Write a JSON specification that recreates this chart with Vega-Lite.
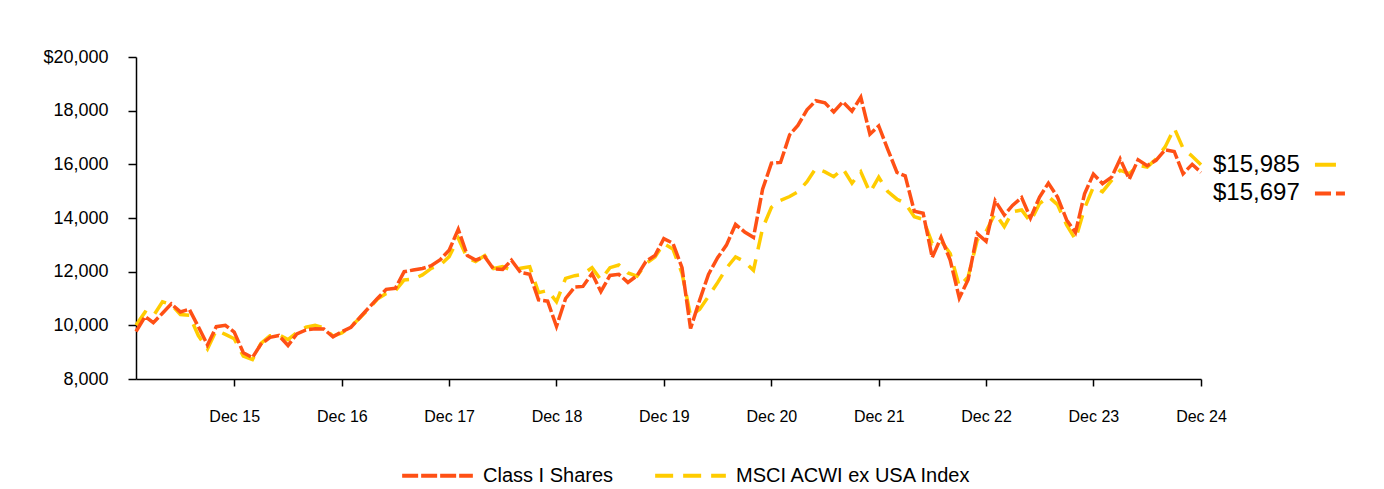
{
"$schema": "https://vega.github.io/schema/vega-lite/v6.json",
"width": 1065,
"height": 322,
"autosize": {"type": "none"},
"padding": {"left": 136, "top": 57, "right": 183, "bottom": 110},
"config": {
  "view": {"stroke": null},
  "font": "Liberation Sans",
  "axis": {"domainColor": "#000", "tickColor": "#000", "labelColor": "#000", "domainWidth": 1.5, "tickWidth": 1.5, "grid": false, "labelFont": "Liberation Sans", "title": null}
},
"datasets": {
  "main": [
{"date":"2015-01-01","Class I Shares":9770,"MSCI ACWI ex USA Index":10000},
{"date":"2015-02-01","Class I Shares":10330,"MSCI ACWI ex USA Index":10500},
{"date":"2015-03-01","Class I Shares":10100,"MSCI ACWI ex USA Index":10350},
{"date":"2015-04-01","Class I Shares":10450,"MSCI ACWI ex USA Index":10880},
{"date":"2015-05-01","Class I Shares":10800,"MSCI ACWI ex USA Index":10780},
{"date":"2015-06-01","Class I Shares":10500,"MSCI ACWI ex USA Index":10400},
{"date":"2015-07-01","Class I Shares":10600,"MSCI ACWI ex USA Index":10380},
{"date":"2015-08-01","Class I Shares":9950,"MSCI ACWI ex USA Index":9620},
{"date":"2015-09-01","Class I Shares":9270,"MSCI ACWI ex USA Index":9120},
{"date":"2015-10-01","Class I Shares":9950,"MSCI ACWI ex USA Index":9820},
{"date":"2015-11-01","Class I Shares":10000,"MSCI ACWI ex USA Index":9660},
{"date":"2015-12-01","Class I Shares":9750,"MSCI ACWI ex USA Index":9500},
{"date":"2016-01-01","Class I Shares":8980,"MSCI ACWI ex USA Index":8850},
{"date":"2016-02-01","Class I Shares":8800,"MSCI ACWI ex USA Index":8720},
{"date":"2016-03-01","Class I Shares":9300,"MSCI ACWI ex USA Index":9330},
{"date":"2016-04-01","Class I Shares":9550,"MSCI ACWI ex USA Index":9610},
{"date":"2016-05-01","Class I Shares":9620,"MSCI ACWI ex USA Index":9650},
{"date":"2016-06-01","Class I Shares":9250,"MSCI ACWI ex USA Index":9470},
{"date":"2016-07-01","Class I Shares":9680,"MSCI ACWI ex USA Index":9730},
{"date":"2016-08-01","Class I Shares":9830,"MSCI ACWI ex USA Index":9930},
{"date":"2016-09-01","Class I Shares":9870,"MSCI ACWI ex USA Index":10000},
{"date":"2016-10-01","Class I Shares":9860,"MSCI ACWI ex USA Index":9900},
{"date":"2016-11-01","Class I Shares":9570,"MSCI ACWI ex USA Index":9600},
{"date":"2016-12-01","Class I Shares":9760,"MSCI ACWI ex USA Index":9720},
{"date":"2017-01-01","Class I Shares":9930,"MSCI ACWI ex USA Index":9960},
{"date":"2017-02-01","Class I Shares":10300,"MSCI ACWI ex USA Index":10280},
{"date":"2017-03-01","Class I Shares":10635,"MSCI ACWI ex USA Index":10600},
{"date":"2017-04-01","Class I Shares":11000,"MSCI ACWI ex USA Index":10980},
{"date":"2017-05-01","Class I Shares":11340,"MSCI ACWI ex USA Index":11190},
{"date":"2017-06-01","Class I Shares":11380,"MSCI ACWI ex USA Index":11290},
{"date":"2017-07-01","Class I Shares":12000,"MSCI ACWI ex USA Index":11690},
{"date":"2017-08-01","Class I Shares":12060,"MSCI ACWI ex USA Index":11720},
{"date":"2017-09-01","Class I Shares":12120,"MSCI ACWI ex USA Index":11880},
{"date":"2017-10-01","Class I Shares":12220,"MSCI ACWI ex USA Index":12120},
{"date":"2017-11-01","Class I Shares":12450,"MSCI ACWI ex USA Index":12250},
{"date":"2017-12-01","Class I Shares":12800,"MSCI ACWI ex USA Index":12560},
{"date":"2018-01-01","Class I Shares":13580,"MSCI ACWI ex USA Index":13240},
{"date":"2018-02-01","Class I Shares":12600,"MSCI ACWI ex USA Index":12500},
{"date":"2018-03-01","Class I Shares":12430,"MSCI ACWI ex USA Index":12380},
{"date":"2018-04-01","Class I Shares":12560,"MSCI ACWI ex USA Index":12600},
{"date":"2018-05-01","Class I Shares":12100,"MSCI ACWI ex USA Index":12120},
{"date":"2018-06-01","Class I Shares":12080,"MSCI ACWI ex USA Index":12186},
{"date":"2018-07-01","Class I Shares":12430,"MSCI ACWI ex USA Index":12060},
{"date":"2018-08-01","Class I Shares":11970,"MSCI ACWI ex USA Index":12124},
{"date":"2018-09-01","Class I Shares":11900,"MSCI ACWI ex USA Index":12186},
{"date":"2018-10-01","Class I Shares":10950,"MSCI ACWI ex USA Index":11220},
{"date":"2018-11-01","Class I Shares":10900,"MSCI ACWI ex USA Index":11300},
{"date":"2018-12-01","Class I Shares":9960,"MSCI ACWI ex USA Index":10880},
{"date":"2019-01-01","Class I Shares":11000,"MSCI ACWI ex USA Index":11750},
{"date":"2019-02-01","Class I Shares":11430,"MSCI ACWI ex USA Index":11850},
{"date":"2019-03-01","Class I Shares":11450,"MSCI ACWI ex USA Index":11900},
{"date":"2019-04-01","Class I Shares":11930,"MSCI ACWI ex USA Index":12150},
{"date":"2019-05-01","Class I Shares":11260,"MSCI ACWI ex USA Index":11700},
{"date":"2019-06-01","Class I Shares":11860,"MSCI ACWI ex USA Index":12150},
{"date":"2019-07-01","Class I Shares":11900,"MSCI ACWI ex USA Index":12250},
{"date":"2019-08-01","Class I Shares":11600,"MSCI ACWI ex USA Index":11950},
{"date":"2019-09-01","Class I Shares":11850,"MSCI ACWI ex USA Index":11830},
{"date":"2019-10-01","Class I Shares":12380,"MSCI ACWI ex USA Index":12300},
{"date":"2019-11-01","Class I Shares":12600,"MSCI ACWI ex USA Index":12550},
{"date":"2019-12-01","Class I Shares":13230,"MSCI ACWI ex USA Index":13050},
{"date":"2020-01-01","Class I Shares":13060,"MSCI ACWI ex USA Index":12840},
{"date":"2020-02-01","Class I Shares":12150,"MSCI ACWI ex USA Index":11940},
{"date":"2020-03-01","Class I Shares":9880,"MSCI ACWI ex USA Index":10350},
{"date":"2020-04-01","Class I Shares":10940,"MSCI ACWI ex USA Index":10600},
{"date":"2020-05-01","Class I Shares":11900,"MSCI ACWI ex USA Index":11080},
{"date":"2020-06-01","Class I Shares":12520,"MSCI ACWI ex USA Index":11590},
{"date":"2020-07-01","Class I Shares":12990,"MSCI ACWI ex USA Index":12130},
{"date":"2020-08-01","Class I Shares":13760,"MSCI ACWI ex USA Index":12550},
{"date":"2020-09-01","Class I Shares":13480,"MSCI ACWI ex USA Index":12372},
{"date":"2020-10-01","Class I Shares":13280,"MSCI ACWI ex USA Index":12050},
{"date":"2020-11-01","Class I Shares":15070,"MSCI ACWI ex USA Index":13620},
{"date":"2020-12-01","Class I Shares":16040,"MSCI ACWI ex USA Index":14400},
{"date":"2021-01-01","Class I Shares":16070,"MSCI ACWI ex USA Index":14660},
{"date":"2021-02-01","Class I Shares":17100,"MSCI ACWI ex USA Index":14800},
{"date":"2021-03-01","Class I Shares":17450,"MSCI ACWI ex USA Index":14980},
{"date":"2021-04-01","Class I Shares":18030,"MSCI ACWI ex USA Index":15350},
{"date":"2021-05-01","Class I Shares":18370,"MSCI ACWI ex USA Index":15850},
{"date":"2021-06-01","Class I Shares":18290,"MSCI ACWI ex USA Index":15720},
{"date":"2021-07-01","Class I Shares":17950,"MSCI ACWI ex USA Index":15540},
{"date":"2021-08-01","Class I Shares":18330,"MSCI ACWI ex USA Index":15840},
{"date":"2021-09-01","Class I Shares":17980,"MSCI ACWI ex USA Index":15300},
{"date":"2021-10-01","Class I Shares":18500,"MSCI ACWI ex USA Index":15720},
{"date":"2021-11-01","Class I Shares":17120,"MSCI ACWI ex USA Index":14950},
{"date":"2021-12-01","Class I Shares":17430,"MSCI ACWI ex USA Index":15520},
{"date":"2022-01-01","Class I Shares":16550,"MSCI ACWI ex USA Index":14980},
{"date":"2022-02-01","Class I Shares":15700,"MSCI ACWI ex USA Index":14700},
{"date":"2022-03-01","Class I Shares":15570,"MSCI ACWI ex USA Index":14550},
{"date":"2022-04-01","Class I Shares":14250,"MSCI ACWI ex USA Index":14050},
{"date":"2022-05-01","Class I Shares":14180,"MSCI ACWI ex USA Index":13950},
{"date":"2022-06-01","Class I Shares":12530,"MSCI ACWI ex USA Index":13050},
{"date":"2022-07-01","Class I Shares":13280,"MSCI ACWI ex USA Index":13150},
{"date":"2022-08-01","Class I Shares":12430,"MSCI ACWI ex USA Index":12680},
{"date":"2022-09-01","Class I Shares":11020,"MSCI ACWI ex USA Index":11450},
{"date":"2022-10-01","Class I Shares":11700,"MSCI ACWI ex USA Index":11800},
{"date":"2022-11-01","Class I Shares":13420,"MSCI ACWI ex USA Index":13180},
{"date":"2022-12-01","Class I Shares":13130,"MSCI ACWI ex USA Index":13500},
{"date":"2023-01-01","Class I Shares":14640,"MSCI ACWI ex USA Index":14175},
{"date":"2023-02-01","Class I Shares":14110,"MSCI ACWI ex USA Index":13680},
{"date":"2023-03-01","Class I Shares":14470,"MSCI ACWI ex USA Index":14230},
{"date":"2023-04-01","Class I Shares":14760,"MSCI ACWI ex USA Index":14300},
{"date":"2023-05-01","Class I Shares":14000,"MSCI ACWI ex USA Index":13860},
{"date":"2023-06-01","Class I Shares":14780,"MSCI ACWI ex USA Index":14540},
{"date":"2023-07-01","Class I Shares":15300,"MSCI ACWI ex USA Index":14800},
{"date":"2023-08-01","Class I Shares":14780,"MSCI ACWI ex USA Index":14500},
{"date":"2023-09-01","Class I Shares":13930,"MSCI ACWI ex USA Index":13740},
{"date":"2023-10-01","Class I Shares":13460,"MSCI ACWI ex USA Index":13200},
{"date":"2023-11-01","Class I Shares":14900,"MSCI ACWI ex USA Index":14360},
{"date":"2023-12-01","Class I Shares":15640,"MSCI ACWI ex USA Index":15160},
{"date":"2024-01-01","Class I Shares":15280,"MSCI ACWI ex USA Index":14980},
{"date":"2024-02-01","Class I Shares":15520,"MSCI ACWI ex USA Index":15400},
{"date":"2024-03-01","Class I Shares":16200,"MSCI ACWI ex USA Index":15780},
{"date":"2024-04-01","Class I Shares":15450,"MSCI ACWI ex USA Index":15650},
{"date":"2024-05-01","Class I Shares":16170,"MSCI ACWI ex USA Index":15960},
{"date":"2024-06-01","Class I Shares":15950,"MSCI ACWI ex USA Index":15900},
{"date":"2024-07-01","Class I Shares":16150,"MSCI ACWI ex USA Index":16200},
{"date":"2024-08-01","Class I Shares":16540,"MSCI ACWI ex USA Index":16650},
{"date":"2024-09-01","Class I Shares":16480,"MSCI ACWI ex USA Index":17350},
{"date":"2024-10-01","Class I Shares":15650,"MSCI ACWI ex USA Index":16600},
{"date":"2024-11-01","Class I Shares":16000,"MSCI ACWI ex USA Index":16300},
{"date":"2024-12-01","Class I Shares":15697,"MSCI ACWI ex USA Index":15985}
  ],
  "ends": [
{"date":"2024-12-01","series":"MSCI ACWI ex USA Index","value":15985,"label":"$15,985"},
{"date":"2024-12-01","series":"Class I Shares","value":15697,"label":"$15,697"}
  ]
},
"encoding": {
  "x": {"field": "date", "type": "temporal",
    "scale": {"type": "utc", "domain": [{"year": 2015, "month": 1, "date": 1, "utc": true}, {"year": 2024, "month": 12, "date": 1, "utc": true}]},
    "axis": {"values": [
      {"year": 2015, "month": 12, "date": 1, "utc": true},
      {"year": 2016, "month": 12, "date": 1, "utc": true},
      {"year": 2017, "month": 12, "date": 1, "utc": true},
      {"year": 2018, "month": 12, "date": 1, "utc": true},
      {"year": 2019, "month": 12, "date": 1, "utc": true},
      {"year": 2020, "month": 12, "date": 1, "utc": true},
      {"year": 2021, "month": 12, "date": 1, "utc": true},
      {"year": 2022, "month": 12, "date": 1, "utc": true},
      {"year": 2023, "month": 12, "date": 1, "utc": true},
      {"year": 2024, "month": 12, "date": 1, "utc": true}],
      "format": "%b %y", "tickSize": 7, "labelPadding": 22, "labelFontSize": 16, "labelFlush": false, "labelOverlap": false}},
  "y": {"field": "value", "type": "quantitative",
    "scale": {"domain": [8000, 20000], "zero": false},
    "axis": {"values": [8000, 10000, 12000, 14000, 16000, 18000, 20000],
      "labelExpr": "datum.value == 20000 ? '$20,000' : format(datum.value, ',')",
      "tickSize": 8, "labelPadding": 20, "labelFontSize": 18}}
},
"layer": [
  {
    "data": {"name": "main"},
    "transform": [
      {"fold": ["Class I Shares", "MSCI ACWI ex USA Index"], "as": ["series", "value"]},
      {"filter": "datum.series == 'MSCI ACWI ex USA Index'"}
    ],
    "mark": {"type": "line", "strokeWidth": 3.5, "strokeCap": "butt"},
    "encoding": {
      "color": {"field": "series", "type": "nominal", "scale": {"domain": ["Class I Shares", "MSCI ACWI ex USA Index"], "range": ["#FF5015", "#FFCC00"]},
        "legend": {"orient": "none", "legendX": 264, "legendY": 381, "direction": "horizontal", "title": null, "labelFontSize": 20, "labelLimit": 400, "labelColor": "#000", "labelFont": "Liberation Sans", "symbolType": "stroke", "symbolSize": 5000, "symbolStrokeWidth": 4, "labelOffset": 8, "columnPadding": 33}},
      "strokeDash": {"field": "series", "type": "nominal", "scale": {"domain": ["Class I Shares", "MSCI ACWI ex USA Index"], "range": [[16, 3], [18, 10]]}}
    }
  },
  {
    "data": {"name": "main"},
    "transform": [
      {"fold": ["Class I Shares", "MSCI ACWI ex USA Index"], "as": ["series", "value"]},
      {"filter": "datum.series == 'Class I Shares'"}
    ],
    "mark": {"type": "line", "strokeWidth": 3.5, "strokeCap": "butt"},
    "encoding": {
      "color": {"field": "series", "type": "nominal"},
      "strokeDash": {"field": "series", "type": "nominal"}
    }
  },
  {
    "data": {"name": "ends"},
    "transform": [{"filter": "datum.series == 'MSCI ACWI ex USA Index'"}],
    "mark": {"type": "text", "align": "left", "baseline": "middle", "dx": 12, "dy": 0, "fontSize": 24, "font": "Liberation Sans", "color": "#000"},
    "encoding": {"text": {"field": "label"}}
  },
  {
    "data": {"name": "ends"},
    "transform": [{"filter": "datum.series == 'Class I Shares'"}],
    "mark": {"type": "text", "align": "left", "baseline": "middle", "dx": 12, "dy": 21, "fontSize": 24, "font": "Liberation Sans", "color": "#000"},
    "encoding": {"text": {"field": "label"}}
  },
  {
    "data": {"name": "ends"},
    "transform": [{"filter": "datum.series == 'MSCI ACWI ex USA Index'"}],
    "mark": {"type": "point", "shape": "M-1.07,0L0.33,0", "size": 900, "filled": false, "strokeWidth": 4, "opacity": 1, "xOffset": 130, "yOffset": 0, "color": "#FFCC00"},
    "encoding": {}
  },
  {
    "data": {"name": "ends"},
    "transform": [{"filter": "datum.series == 'Class I Shares'"}],
    "mark": {"type": "point", "shape": "M-1.07,0L0,0M0.33,0L0.93,0", "size": 900, "filled": false, "strokeWidth": 4, "opacity": 1, "xOffset": 130, "yOffset": 21, "color": "#FF5015"},
    "encoding": {}
  }
]
}
